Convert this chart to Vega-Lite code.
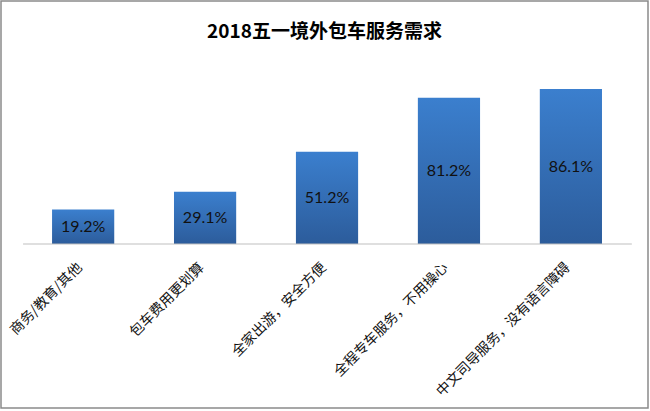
{
  "$schema": "https://vega.github.io/schema/vega-lite/v6.json",
  "width": 647,
  "height": 407,
  "autosize": {"type": "none"},
  "padding": {"left": 1, "top": 1, "right": 2, "bottom": 3},
  "background": "white",
  "config": {"view": {"stroke": "#8a8a8a", "strokeWidth": 1.5}},
  "title": {
    "text": "2018五一境外包车服务需求",
    "font": "Noto Sans CJK SC",
    "fontSize": 19,
    "fontWeight": "bold",
    "color": "#000000",
    "anchor": "middle",
    "frame": "group",
    "baseline": "bottom",
    "offset": -60
  },
  "data": {
    "values": [
      {"item": "商务/教育/其他", "value": 0.192},
      {"item": "包车费用更划算", "value": 0.291},
      {"item": "全家出游，安全方便", "value": 0.512},
      {"item": "全程专车服务，不用操心", "value": 0.812},
      {"item": "中文司导服务，没有语言障碍", "value": 0.861}
    ]
  },
  "encoding": {
    "x": {
      "field": "item",
      "type": "nominal",
      "sort": null,
      "scale": {
        "domain": ["商务/教育/其他", "包车费用更划算", "全家出游，安全方便", "全程专车服务，不用操心", "中文司导服务，没有语言障碍"],
        "paddingInner": 0.49,
        "paddingOuter": 0.398,
        "align": 0.526
      },
      "axis": {
        "title": null,
        "orient": "bottom",
        "offset": -164,
        "domain": false,
        "ticks": false,
        "grid": false,
        "labelAngle": -45,
        "labelAlign": "right",
        "labelBaseline": "top",
        "labelPadding": 16,
        "labelOffset": -8,
        "labelFont": "Noto Sans CJK SC",
        "labelFontSize": 14,
        "labelColor": "#111111",
        "labelLimit": 300
      }
    }
  },
  "layer": [
    {
      "mark": {
        "type": "bar",
        "color": {
          "gradient": "linear",
          "x1": 0, "y1": 0, "x2": 0, "y2": 1,
          "stops": [
            {"offset": 0, "color": "#3b7fce"},
            {"offset": 1, "color": "#2c5c9b"}
          ]
        }
      },
      "encoding": {
        "y": {"field": "value", "type": "quantitative", "scale": {"domain": [-0.911, 1.35]}, "axis": null}
      }
    },
    {
      "data": {"values": [{"base": 0}]},
      "mark": {"type": "rule", "color": "#bfbfbf", "strokeWidth": 1},
      "encoding": {
        "x": {"datum": "商务/教育/其他", "bandPosition": -0.466},
        "x2": {"datum": "中文司导服务，没有语言障碍", "bandPosition": 1.48},
        "y": {"field": "base", "type": "quantitative", "scale": {"domain": [-0.911, 1.35]}, "axis": null}
      }
    },
    {
      "mark": {"type": "text", "font": "Lato", "fontSize": 16, "color": "#111111", "baseline": "middle"},
      "encoding": {
        "y": {"field": "value", "type": "quantitative", "scale": {"domain": [-1.822, 2.7]}, "axis": null},
        "text": {"field": "value", "type": "quantitative", "format": ".1%"}
      }
    }
  ],
  "resolve": {"scale": {"y": "independent"}}
}
